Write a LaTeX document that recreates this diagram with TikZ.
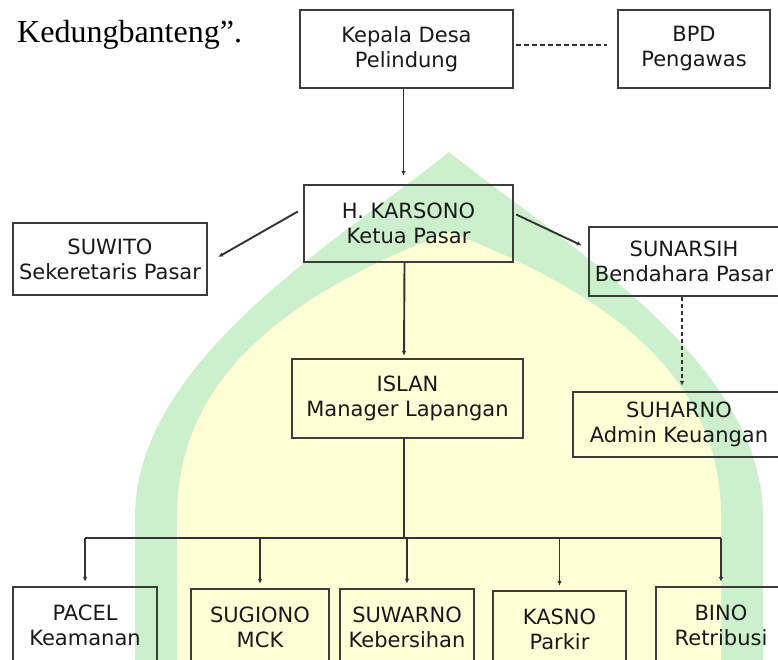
\documentclass[tikz,border=0pt]{standalone}
\usepackage{fontspec}
\usepackage{tikz}
\usetikzlibrary{arrows.meta, calc}
\newfontfamily\boxfont{DejaVu Sans}
\newfontfamily\headfont{Liberation Serif}
\definecolor{boxgray}{RGB}{60,60,60}
\definecolor{wmgreen}{RGB}{204,240,204}
\definecolor{wmyellow}{RGB}{255,255,214}

\begin{document}
\begin{tikzpicture}[
    x=1pt, y=-1pt,
    box/.style={rectangle, draw=boxgray, line width=2.3pt, inner sep=0pt,
                align=center, text=black!90, font=\boxfont\fontsize{21}{25}\selectfont},
    link/.style={draw=black!80, line width=1.9pt},
    arr/.style={link, -{Latex[length=5pt,width=4.5pt]}},
    dashlink/.style={dash pattern=on 5pt off 3pt}
]
    \useasboundingbox (0,0) rectangle (778,660);
    \clip (0,0) rectangle (778,660);

    % watermark behind the chart
    \fill[wmgreen] (135,670) -- (135,517) .. controls (135,360) and (340,240) .. (449,152)
        .. controls (558,240) and (763,360) .. (763,517) -- (763,670) -- cycle;
    \fill[wmyellow] (177,670) -- (177,517) .. controls (177,370) and (300,290) .. (449,232)
        .. controls (598,290) and (721,370) .. (721,517) -- (721,670) -- cycle;

    \node[anchor=base west, inner sep=0pt, font=\headfont\fontsize{32}{38}\selectfont] (head) at (17,43) {Kedungbanteng”.};

    \node[box, minimum width=213pt, minimum height=78pt] (kades) at (406.5,49) {Kepala Desa\\Pelindung};
    \node[box, minimum width=152pt, minimum height=78pt] (bpd) at (694,49) {BPD\\Pengawas};
    \node[box, minimum width=209pt, minimum height=77pt] (ketua) at (408.5,223.5) {H. KARSONO\\Ketua Pasar};
    \node[box, minimum width=194pt, minimum height=72pt] (sekre) at (110,259) {SUWITO\\Sekeretaris Pasar};
    \node[box, minimum width=190pt, minimum height=69pt] (benda) at (684,261.5) {SUNARSIH\\Bendahara Pasar};
    \node[box, minimum width=231pt, minimum height=79pt] (manager) at (407.5,398.5) {ISLAN\\Manager Lapangan};
    \node[box, minimum width=212pt, minimum height=65pt] (admin) at (679,424.5) {SUHARNO\\Admin Keuangan};

    \node[box, minimum width=144pt, minimum height=76pt] (pacel) at (85,625) {PACEL\\Keamanan};
    \node[box, minimum width=138pt, minimum height=76pt] (sugiono) at (260,627) {SUGIONO\\MCK};
    \node[box, minimum width=134pt, minimum height=76pt] (suwarno) at (407,627) {SUWARNO\\Kebersihan};
    \node[box, minimum width=133pt, minimum height=76pt] (kasno) at (559.5,629) {KASNO\\Parkir};
    \node[box, minimum width=130pt, minimum height=76pt] (bino) at (721,625) {BINO\\Retribusi};

    \draw[link, dashlink] ([shift={(2,-4)}]kades.east) -- ([shift={(-10,-4)}]bpd.west);
    \draw[arr] ([shift={(-3,0)}]kades.south) -- ([shift={(-5,-8)}]ketua.north);
    \draw[arr] ([shift={(-5,-12)}]ketua.west) -- ([shift={(10,-2)}]sekre.east);
    \draw[arr] ([shift={(2,-9)}]ketua.east) -- ([shift={(-6,-16)}]benda.west);
    \draw[arr, dash pattern=on 4pt off 3pt] ([shift={(-2,0)}]benda.south) -- ([shift={(3,-5)}]admin.north);
    \draw[arr] ([shift={(-4,0)}]ketua.south) -- ([shift={(-3.5,-2)}]manager.north);

    \coordinate (bus) at (404,538);
    \draw[link] ([shift={(-3.5,0)}]manager.south) -- (bus);
    \draw[link] (bus -| pacel.north) -- (bus -| bino.north);
    \foreach \n in {pacel,sugiono,suwarno,kasno,bino}
        \draw[arr, shorten >=4pt] (bus -| \n.north) -- (\n.north);
\end{tikzpicture}
\end{document}
